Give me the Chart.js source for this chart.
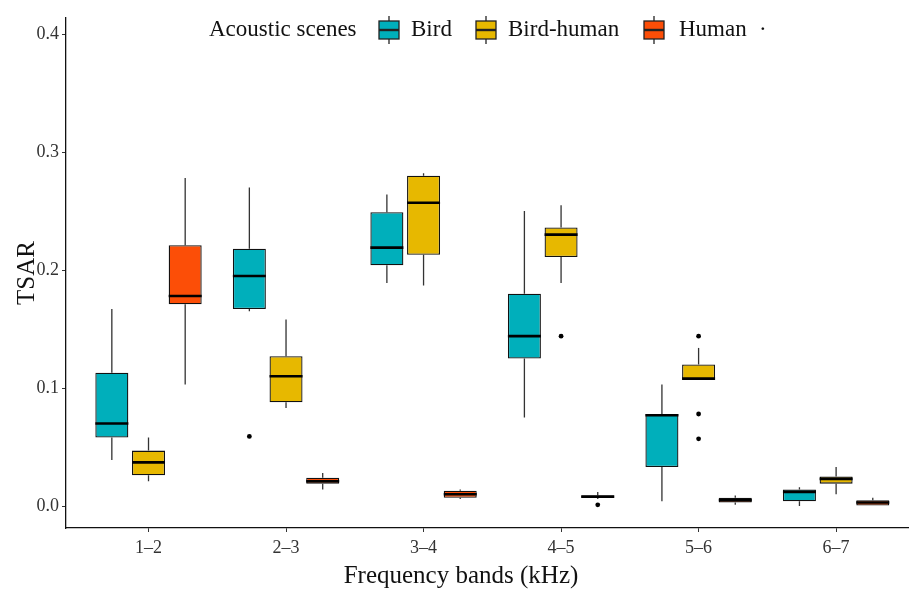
<!DOCTYPE html>
<html>
<head>
<meta charset="utf-8">
<script src="https://cdn.jsdelivr.net/npm/chart.js@4.4.1/dist/chart.umd.min.js"></script>
<style>
  html, body { margin: 0; padding: 0; background: #fff; }
  #wrap { width: 909px; height: 592px; }
</style>
</head>
<body>
<div id="wrap"><canvas id="tsarChart"></canvas></div>
<script>
// frequency bands on the x axis
const bands = ['1–2', '2–3', '3–4', '4–5', '5–6', '6–7'];
const yTicks = [0, 0.1, 0.2, 0.3, 0.4];

// each row: [min, q1, median, q3, max]
const bird = [
  [0.039, 0.058, 0.070, 0.113, 0.167],
  [0.165, 0.167, 0.195, 0.218, 0.270],
  [0.189, 0.204, 0.219, 0.249, 0.264],
  [0.075, 0.125, 0.144, 0.180, 0.250],
  [0.004, 0.033, 0.077, 0.078, 0.103],
  [0.000, 0.004, 0.012, 0.014, 0.016]
];
const birdHuman = [
  [0.021, 0.026, 0.037, 0.047, 0.058],
  [0.083, 0.088, 0.110, 0.127, 0.158],
  [0.187, 0.213, 0.257, 0.280, 0.282],
  [0.189, 0.211, 0.230, 0.236, 0.255],
  [0.107, 0.107, 0.108, 0.120, 0.134],
  [0.010, 0.019, 0.023, 0.025, 0.033]
];
const human = [
  [0.103, 0.171, 0.178, 0.221, 0.278],
  [0.014, 0.019, 0.021, 0.024, 0.028],
  [0.006, 0.007, 0.010, 0.013, 0.014],
  [0.006, 0.007, 0.008, 0.009, 0.012],
  [0.001, 0.003, 0.005, 0.007, 0.009],
  [0.000, 0.000, 0.003, 0.005, 0.007]
];

// outliers per band
const birdOut = [[], [0.059], [], [], [], []];
const birdHumanOut = [[], [], [], [0.144], [0.144, 0.078, 0.057], []];
const humanOut = [[], [], [], [0.001], [], []];

const seriesNames = ['Bird', 'Bird-human', 'Human'];
const seriesColors = ['#00AFBB', '#E7B800', '#FC4E07'];
const seriesStats = [bird, birdHuman, human];
const seriesOut = [birdOut, birdHumanOut, humanOut];

const serif = '"Liberation Serif", "DejaVu Serif", serif';

// whiskers, medians, outliers, legend and x title
const boxExtras = {
  id: 'boxExtras',
  beforeDatasetsDraw(chart) {
    const ctx = chart.ctx;
    const y = chart.scales.y;
    ctx.save();
    ctx.strokeStyle = '#333';
    ctx.lineWidth = 1.3;
    seriesStats.forEach((stats, d) => {
      const meta = chart.getDatasetMeta(d);
      stats.forEach((s, i) => {
        const bx = meta.data[i].x;
        ctx.beginPath();
        ctx.moveTo(bx, y.getPixelForValue(s[0]));
        ctx.lineTo(bx, y.getPixelForValue(s[1]));
        ctx.moveTo(bx, y.getPixelForValue(s[3]));
        ctx.lineTo(bx, y.getPixelForValue(s[4]));
        ctx.stroke();
      });
    });
    ctx.restore();
  },
  afterDatasetsDraw(chart) {
    const ctx = chart.ctx;
    const y = chart.scales.y;
    ctx.save();
    seriesStats.forEach((stats, d) => {
      const meta = chart.getDatasetMeta(d);
      stats.forEach((s, i) => {
        const bar = meta.data[i];
        const half = bar.width / 2;
        const my = y.getPixelForValue(s[2]);
        ctx.strokeStyle = '#000';
        ctx.lineWidth = 2.6;
        ctx.beginPath();
        ctx.moveTo(bar.x - half, my);
        ctx.lineTo(bar.x + half, my);
        ctx.stroke();
        ctx.fillStyle = '#000';
        seriesOut[d][i].forEach(v => {
          ctx.beginPath();
          ctx.arc(bar.x, y.getPixelForValue(v), 2.4, 0, Math.PI * 2);
          ctx.fill();
        });
      });
    });
    ctx.restore();
  },
  afterDraw(chart) {
    const ctx = chart.ctx;
    ctx.save();
    // legend
    const ly = 30;
    ctx.fillStyle = '#111';
    ctx.textBaseline = 'middle';
    ctx.font = '23px ' + serif;
    ctx.fillText('Acoustic scenes', 209, ly);
    const keyX = [389, 486, 654];
    const textX = [411, 508, 679];
    seriesNames.forEach((name, k) => {
      const cx = keyX[k];
      ctx.strokeStyle = '#222';
      ctx.lineWidth = 1.3;
      ctx.beginPath();
      ctx.moveTo(cx, ly - 14);
      ctx.lineTo(cx, ly + 14);
      ctx.stroke();
      ctx.fillStyle = seriesColors[k];
      ctx.fillRect(cx - 10, ly - 9, 20, 18);
      ctx.strokeRect(cx - 10, ly - 9, 20, 18);
      ctx.lineWidth = 2.4;
      ctx.beginPath();
      ctx.moveTo(cx - 10, ly);
      ctx.lineTo(cx + 10, ly);
      ctx.stroke();
      ctx.fillStyle = '#111';
      ctx.fillText(name, textX[k], ly);
    });
    ctx.fillText('·', 759, ly);
    // x axis title
    ctx.textAlign = 'center';
    ctx.font = '25px ' + serif;
    ctx.fillText('Frequency bands (kHz)', 461, 576);
    ctx.restore();
  }
};

const datasets = seriesStats.map((stats, d) => ({
  label: seriesNames[d],
  data: stats.map((s, i) => ({ x: i, y: [s[1], s[3]] })),
  backgroundColor: seriesColors[d],
  borderColor: '#111',
  borderWidth: 1.3,
  borderSkipped: false,
  categoryPercentage: 0.8,
  barPercentage: 0.9
}));

const ctx = document.getElementById('tsarChart').getContext('2d');
new Chart(ctx, {
  type: 'bar',
  data: { datasets: datasets },
  options: {
    responsive: true,
    maintainAspectRatio: false,
    animation: false,
    layout: { padding: { top: 18, right: 0, left: 0, bottom: 0 } },
    plugins: {
      legend: { display: false },
      tooltip: { enabled: false }
    },
    scales: {
      x: {
        type: 'linear',
        min: -0.6,
        max: 5.53,
        offset: false,
        afterBuildTicks: (scale) => { scale.ticks = bands.map((b, i) => ({ value: i })); },
        afterFit: (scale) => { scale.height = 64; },
        ticks: {
          callback: (v) => bands[v],
          color: '#333',
          padding: 5,
          font: { family: serif, size: 18 }
        },
        grid: { display: true, drawOnChartArea: false, drawTicks: true, tickLength: 4, color: '#333', offset: false },
        border: { display: true, color: '#111', width: 1.3 }
      },
      y: {
        min: -0.0186,
        max: 0.4136,
        afterBuildTicks: (scale) => { scale.ticks = yTicks.map(v => ({ value: v })); },
        afterFit: (scale) => { scale.width = 66; },
        ticks: {
          callback: (v) => v.toFixed(1),
          color: '#333',
          padding: 3,
          font: { family: serif, size: 18 }
        },
        grid: { display: true, drawOnChartArea: false, drawTicks: true, tickLength: 4, color: '#333' },
        border: { display: true, color: '#111', width: 1.3 },
        title: {
          display: true,
          text: 'TSAR',
          color: '#111',
          padding: { top: 12, bottom: 0 },
          font: { family: serif, size: 25 }
        }
      }
    }
  },
  plugins: [boxExtras]
});
</script>
</body>
</html>
